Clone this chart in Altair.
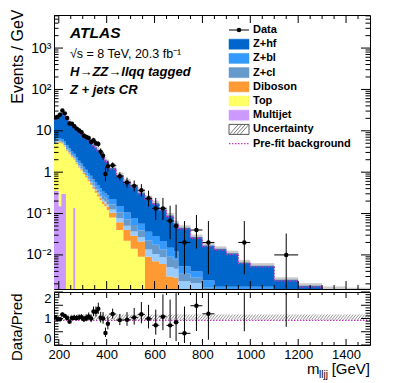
import altair as alt
import numpy as np
import pandas as pd

# ---------------- data ----------------
edges = [180, 190, 200, 210, 220, 230, 240, 250, 260, 270, 280, 290, 300, 310, 320, 330,
         340, 350, 360, 370, 380, 390, 400, 410, 440, 470, 500, 530, 560, 590, 620, 650,
         680, 700, 750, 800, 850, 900, 950, 1000, 1100, 1200, 1300, 1400, 1500]

# events / GeV for each background component
multijet = [0.35, 0.35, 0.15, 0.3, 0.3, 0, 0, 0, 0.137, 0,
            0, 0, 0, 0, 0, 0, 0, 0, 0, 0,
            0, 0, 0, 0, 0, 0, 0, 0, 0, 0,
            0, 0, 0, 0, 0, 0, 0, 0, 0, 0,
            0, 0, 0, 0]
top = [4.5, 5.0, 5.0, 4.6, 3.9, 3.3, 2.8, 2.3, 1.9, 1.6,
       1.3, 1.1, 0.9, 0.75, 0.6, 0.5, 0.4, 0.32, 0.26, 0.21,
       0.17, 0.15, 0.12, 0.08, 0.04, 0.022, 0.014, 0.009, 0, 0,
       0, 0, 0, 0, 0, 0, 0, 0, 0, 0,
       0, 0, 0, 0]
diboson = [0.15, 0.18, 0.2, 0.2, 0.18, 0.16, 0.14, 0.12, 0.1, 0.09,
           0.08, 0.07, 0.06, 0.055, 0.05, 0.045, 0.04, 0.036, 0.033, 0.03,
           0.027, 0.025, 0.025, 0.025, 0.022, 0.018, 0.015, 0.012, 0.009, 0.007,
           0.006, 0.003, 0.0028, 0.0005, 0.0003, 0, 0, 0, 0, 0,
           0, 0, 0, 0]
zl = [0.15, 0.16, 0.17, 0.16, 0.15, 0.13, 0.11, 0.1, 0.09, 0.08,
      0.07, 0.06, 0.055, 0.05, 0.045, 0.04, 0.036, 0.032, 0.029, 0.026,
      0.023, 0.02, 0.02, 0.02, 0.015, 0.011, 0.008, 0.006, 0.0045, 0.0035,
      0.0028, 0.002, 0.0018, 0.0018, 0.0018, 0.0012, 0.0008, 0.0008, 0.0008, 0.0006,
      0.0003, 0.0002, 0.0002, 0.0002]
zcl = [0.35, 0.4, 0.42, 0.4, 0.36, 0.32, 0.28, 0.24, 0.21, 0.18,
       0.16, 0.14, 0.12, 0.11, 0.1, 0.09, 0.08, 0.07, 0.06, 0.055,
       0.05, 0.045, 0.045, 0.04, 0.03, 0.022, 0.016, 0.012, 0.009, 0.007,
       0.005, 0.004, 0.003, 0.0012, 0.0007, 0.0004, 0.0003, 0.0003, 0.0003, 0.0003,
       0.0002, 0.0001, 0.0001, 0.0001]
zbl = [0.6, 0.7, 0.75, 0.7, 0.62, 0.55, 0.48, 0.42, 0.36, 0.31,
       0.27, 0.24, 0.21, 0.18, 0.16, 0.14, 0.12, 0.11, 0.1, 0.09,
       0.08, 0.07, 0.065, 0.06, 0.045, 0.033, 0.025, 0.018, 0.014, 0.011,
       0.008, 0.006, 0.0045, 0.0018, 0.0012, 0.0008, 0.0006, 0.0006, 0.0006, 0.0008,
       0.0004, 0.0003, 0.0002, 0.0002]
zhf = [13.9, 15.2, 18.3, 20.6, 18.5, 15.5, 13.2, 11.3, 9.7, 8.7,
       7.9, 7.2, 6.45, 5.85, 5.25, 4.6, 4.0, 3.43, 3.02, 2.59,
       2.15, 1.69, 1.48, 1.03, 0.70, 0.49, 0.37, 0.26, 0.20, 0.15,
       0.103, 0.075, 0.046, 0.040, 0.023, 0.0146, 0.0123, 0.0093, 0.0049, 0.0038,
       0.0016, 0.0012, 0.0010, 0.0009]

# observed events per bin
data_counts = [210, 216, 243, 311, 264, 204, 150, 148, 129, 112,
               102, 92, 76, 71, 67, 54, 59, 50, 48, 31,
               25, 9, 14, 44, 24, 17, 14, 11, 7, 4,
               4, 2, 1, 1, 2, 1, 0, 0, 1, 0,
               1, 0, 0, 0]

unc_band = [0.95, 1.15]     # relative uncertainty band (ratio panel)
prefit_ratio = 0.93         # pre-fit / post-fit background

x_major = [200, 400, 600, 800, 1000, 1200, 1400]
y_major = [0.01, 0.1, 1, 10, 100, 1000]
r_major = [0, 0.5, 1, 1.5, 2]

comp_names = ["Multijet", "Top", "Diboson", "Z+l", "Z+cl", "Z+bl", "Z+hf"]
comp_cols = ["#CC99FF", "#FFFF66", "#FF9933", "#99CCFF", "#6699CC", "#3399FF", "#0066CC"]
legend_labels = ["Data", "Z+hf", "Z+bl", "Z+cl", "Diboson", "Top", "Multijet",
                 "Uncertainty", "Pre-fit background"]
legend_cols = [None, "#0066CC", "#3399FF", "#6699CC", "#FF9933", "#FFFF66", "#CC99FF", None, None]

# ---------------- derived tables ----------------
FONT = "Liberation Sans"
W, H, HR = 316, 274, 53
PINK = "#C23CC2"
FLOOR = 1e-6

lo = np.array(edges[:-1], float)
hi = np.array(edges[1:], float)
n = len(lo)
comp_vals = [multijet, top, diboson, zl, zcl, zbl, zhf]
rows = []
cum = np.zeros(n)
for k, (nm, vals) in enumerate(zip(comp_names, comp_vals)):
    v = np.array(vals, float)
    y0 = np.maximum(cum, FLOOR)
    y1 = np.maximum(cum + v, FLOOR)
    for i in range(n):
        rows.append(dict(comp=nm, xe=lo[i], ya=y0[i], yb=y1[i]))
    rows.append(dict(comp=nm, xe=hi[-1], ya=y0[-1], yb=y1[-1]))
    cum = cum + v
total = cum
stack_df = pd.DataFrame(rows)

unc_df = pd.DataFrame(dict(lo=lo, hi=hi, b=total * unc_band[0], t=total * unc_band[1]))
pre_df = pd.DataFrame(dict(x=list(lo) + [hi[-1]],
                           y=list(total * prefit_ratio) + [total[-1] * prefit_ratio]))

N = np.array(data_counts, float)
w = hi - lo
m = N > 0
Nm = N[m]
nlo = Nm * (1 - 1 / (9 * Nm) - 1 / (3 * np.sqrt(Nm))) ** 3
nhi = (Nm + 1) * (1 - 1 / (9 * (Nm + 1)) + 1 / (3 * np.sqrt(Nm + 1))) ** 3
d = pd.DataFrame(dict(lo=lo[m], hi=hi[m], c=(lo[m] + hi[m]) / 2, v=Nm / w[m],
                      ylo=nlo / w[m], yhi=nhi / w[m]))
d["r"] = d.v / total[m]
d["rlo"] = d.ylo / total[m]
d["rhi"] = d.yhi / total[m]

xscale = alt.Scale(domain=[180, 1500], nice=False, zero=False)
yscale = alt.Scale(type="log", domain=[0.0015, 6300], nice=False)
rscale = alt.Scale(domain=[0, 2], nice=False, zero=False)

ylab = ("datum.value < 0.05 ? '10\u207b\u00b2' : datum.value < 0.5 ? '10\u207b\u00b9' : "
        "datum.value < 5 ? '1' : datum.value < 50 ? '10' : datum.value < 500 ? '10\u00b2' : '10\u00b3'")
yaxis_main = alt.Axis(values=y_major, labelExpr=ylab, ticks=False, domain=False, grid=False,
                      labelFontSize=14, labelPadding=3, title="Events / GeV", titleFontSize=16,
                      titleFontWeight="normal", titleAngle=270, titleAlign="right",
                      titleBaseline="top", titleX=-45, titleY=-6)
xaxis_ratio = alt.Axis(values=x_major, format="d", ticks=False, domain=False, grid=False,
                       labelFontSize=13, labelPadding=3, title=None)
yaxis_ratio = alt.Axis(values=r_major, format="~g", ticks=False, domain=False, grid=False,
                       labelFontSize=13, labelPadding=3, labelFlush=True, title="Data/Pred",
                       titleFontSize=15, titleFontWeight="normal", titleAngle=270,
                       titleAlign="right", titleBaseline="top", titleX=-45, titleY=1)

mX = lambda f: alt.X(f, scale=xscale, axis=None)
mY = lambda f: alt.Y(f, scale=yscale, axis=yaxis_main)
rX = lambda f: alt.X(f, scale=xscale, axis=xaxis_ratio)
rY = lambda f: alt.Y(f, scale=rscale, axis=yaxis_ratio)

one = pd.DataFrame({"a": [0]})

# ---------------- main panel ----------------
cscale = alt.Scale(domain=comp_names, range=comp_cols)
stack = alt.Chart(stack_df).mark_area(clip=True, interpolate="step-after").encode(
    x=mX("xe:Q"), y=mY("ya:Q"), y2=alt.Y2("yb:Q"),
    color=alt.Color("comp:N", scale=cscale, legend=None))
unc = alt.Chart(unc_df).mark_bar(clip=True, color="#8a8a8a", opacity=0.45).encode(
    x=mX("lo:Q"), x2="hi:Q", y=mY("b:Q"), y2="t:Q")
pre = alt.Chart(pre_df).mark_line(clip=True, interpolate="step-after", color=PINK,
                                  strokeDash=[1.5, 1.5], strokeWidth=1.3).encode(
    x=mX("x:Q"), y=mY("y:Q"))
dv = alt.Chart(d).mark_rule(clip=True, color="black", strokeWidth=1).encode(
    x=mX("c:Q"), y=mY("ylo:Q"), y2="yhi:Q")
dh = alt.Chart(d).mark_rule(clip=True, color="black", strokeWidth=1).encode(
    x=mX("lo:Q"), x2="hi:Q", y=mY("v:Q"))
dp = alt.Chart(d).mark_circle(clip=True, color="black", size=20, opacity=1).encode(
    x=mX("c:Q"), y=mY("v:Q"))


def log_minor(lo_v, hi_v):
    out = []
    for e in range(-4, 5):
        for k in range(2, 10):
            val = k * 10.0 ** e
            if lo_v < val < hi_v:
                out.append(val)
    return out


x_minor = [v for v in range(200, 1500, 50) if v not in x_major]
r_minor = [round(0.1 * i, 1) for i in range(1, 20) if i % 5 != 0]


def vticks(vals, Xf, length, height, top_side):
    df = pd.DataFrame({"v": vals})
    y0, y1 = (0, length) if top_side else (height - length, height)
    return alt.Chart(df).mark_rule(color="black", strokeWidth=1).encode(
        x=Xf("v:Q"), y=alt.value(y0), y2=alt.value(y1))


def hticks(vals, Yf, length, right_side):
    df = pd.DataFrame({"v": vals})
    x0, x1 = (W - length, W) if right_side else (0, length)
    return alt.Chart(df).mark_rule(color="black", strokeWidth=1).encode(
        y=Yf("v:Q"), x=alt.value(x0), x2=alt.value(x1))


main_ticks = []
for side in (False, True):
    main_ticks.append(vticks(x_major, mX, 8, H, side))
    main_ticks.append(vticks(x_minor, mX, 4, H, side))
    main_ticks.append(hticks(y_major, mY, 9, side))
    main_ticks.append(hticks(log_minor(0.0015, 6300), mY, 4.5, side))


def txt(s, x, y, size, bold=False, italic=False, align="left", baseline="alphabetic", color="black"):
    return alt.Chart(pd.DataFrame({"t": [s]})).mark_text(
        align=align, baseline=baseline, fontSize=size, font=FONT,
        fontWeight="bold" if bold else "normal", fontStyle="italic" if italic else "normal",
        color=color).encode(text="t:N", x=alt.value(x), y=alt.value(y))


labels = [
    txt("ATLAS", 16, 23, 15.5, bold=True, italic=True),
    txt("\u221as = 8 TeV, 20.3 fb\u207b\u00b9", 16, 43, 12.5),
    txt("H\u2192ZZ\u2192llqq tagged", 16, 61, 13, bold=True, italic=True),
    txt("Z + jets CR", 16, 79, 13, bold=True, italic=True),
]

leg = []
LX0, LX1 = 175, 195
for i, (lab, col) in enumerate(zip(legend_labels, legend_cols)):
    yc = 15 + 14.2 * i
    leg.append(txt(lab, 199, yc, 11, bold=True, baseline="middle"))
    if lab == "Data":
        leg.append(alt.Chart(one).mark_rule(color="black", strokeWidth=1).encode(
            x=alt.value(LX0), x2=alt.value(LX1), y=alt.value(yc)))
        leg.append(alt.Chart(one).mark_circle(color="black", size=20, opacity=1).encode(
            x=alt.value((LX0 + LX1) / 2), y=alt.value(yc)))
    elif lab == "Uncertainty":
        leg.append(alt.Chart(one).mark_rect(fill="white", stroke="#555", strokeWidth=1).encode(
            x=alt.value(LX0), x2=alt.value(LX1), y=alt.value(yc - 5), y2=alt.value(yc + 5)))
        for a in (LX0 + 1, LX0 + 4.5, LX0 + 8, LX0 + 11.5):
            leg.append(alt.Chart(one).mark_rule(color="#555", strokeWidth=0.8).encode(
                x=alt.value(a), x2=alt.value(a + 8), y=alt.value(yc + 4.5), y2=alt.value(yc - 4.5)))
    elif lab == "Pre-fit background":
        leg.append(alt.Chart(one).mark_rule(color=PINK, strokeWidth=1.3, strokeDash=[1.5, 1.5]).encode(
            x=alt.value(LX0), x2=alt.value(LX1), y=alt.value(yc)))
    else:
        leg.append(alt.Chart(one).mark_rect(fill=col, stroke=col, strokeWidth=0.5).encode(
            x=alt.value(LX0), x2=alt.value(LX1), y=alt.value(yc - 5), y2=alt.value(yc + 5)))

main = alt.layer(stack, unc, pre, dv, dh, dp, *main_ticks, *labels, *leg).properties(width=W, height=H)

# ---------------- ratio panel ----------------
hx = np.arange(140, 1500, 12.0)
hatch_df = pd.DataFrame(dict(x0=hx, x1=hx + 18, b=unc_band[0], t=unc_band[1]))
hatch = alt.Chart(hatch_df).mark_rule(clip=True, color="#777", strokeWidth=0.8).encode(
    x=rX("x0:Q"), x2="x1:Q", y=rY("b:Q"), y2="t:Q")
pline = alt.Chart(pd.DataFrame({"p": [prefit_ratio]})).mark_rule(
    color=PINK, strokeWidth=1.3, strokeDash=[1.5, 1.5]).encode(
    y=rY("p:Q"), x=alt.value(0), x2=alt.value(W))
rv = alt.Chart(d).mark_rule(clip=True, color="black", strokeWidth=1).encode(
    x=rX("c:Q"), y=rY("rlo:Q"), y2="rhi:Q")
rh = alt.Chart(d).mark_rule(clip=True, color="black", strokeWidth=1).encode(
    x=rX("lo:Q"), x2="hi:Q", y=rY("r:Q"))
rp = alt.Chart(d).mark_circle(clip=True, color="black", size=20, opacity=1).encode(
    x=rX("c:Q"), y=rY("r:Q"))

ratio_ticks = []
for side in (False, True):
    ratio_ticks.append(vticks(x_major, rX, 6, HR, side))
    ratio_ticks.append(vticks(x_minor, rX, 3, HR, side))
    ratio_ticks.append(hticks(r_major, rY, 9, side))
    ratio_ticks.append(hticks(r_minor, rY, 4.5, side))

xt = [
    txt("m", 253, 82, 15),
    txt("lljj", 265, 86, 10),
    txt("[GeV]", W, 82, 15, align="right"),
]

ratio = alt.layer(hatch, pline, rv, rh, rp, *ratio_ticks, *xt).properties(width=W, height=HR)

chart = alt.vconcat(main, ratio, spacing=3, bounds="flush").properties(
    padding={"left": 0, "top": 0, "right": 4, "bottom": 2}
).configure_view(stroke="black", strokeWidth=1).configure_axis(
    labelFont=FONT, titleFont=FONT, labelColor="black", titleColor="black"
).configure_text(font=FONT)

chart.save("out.html", embed_options={"renderer": "svg", "actions": False})
